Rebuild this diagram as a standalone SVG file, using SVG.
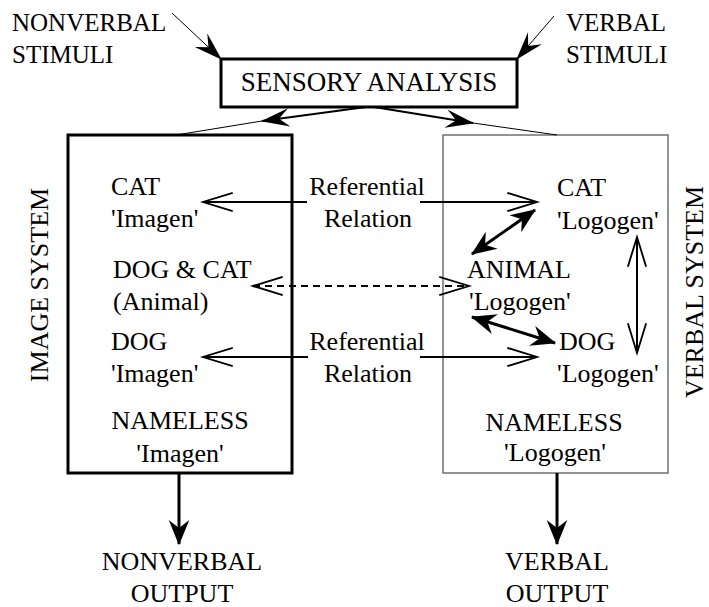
<svg xmlns="http://www.w3.org/2000/svg" width="709" height="607" viewBox="0 0 709 607">
  <style>
    text { font-family: "Liberation Serif", "Times New Roman", serif; font-size: 26px; fill: #000; }
    .small { font-size: 25px; }
    .title { font-size: 27px; }
    .mid { text-anchor: middle; }
    .box-strong { fill: #fff; stroke: #000; stroke-width: 3; }
    .box-light { fill: #fff; stroke: #707070; stroke-width: 1.5; }
    .ln { fill: none; stroke: #000; stroke-linecap: butt; }
    .thin { stroke-width: 1; }
    .med { stroke-width: 2; }
    .bold { stroke-width: 3; }
    .dash { stroke-dasharray: 7 5; stroke-width: 2.2; }
  </style>
  <defs>
    <!-- open V head -->
    <marker id="vee" markerUnits="userSpaceOnUse" orient="auto-start-reverse" refX="0" refY="0"
            markerWidth="40" markerHeight="40" viewBox="-30 -15 35 30" overflow="visible">
      <path d="M-26,-8 L0,0 L-26,8" fill="none" stroke="#000" stroke-width="1.6"/>
    </marker>
    <!-- barbed solid head -->
    <marker id="barb" markerUnits="userSpaceOnUse" orient="auto-start-reverse" refX="0" refY="0"
            markerWidth="40" markerHeight="40" viewBox="-30 -15 35 30" overflow="visible">
      <path d="M1,0 L-21,-9 L-14,0 L-21,9 Z" fill="#000"/>
    </marker>
    <!-- slim barbed head -->
    <marker id="barbSlim" markerUnits="userSpaceOnUse" orient="auto-start-reverse" refX="0" refY="0"
            markerWidth="40" markerHeight="40" viewBox="-30 -15 35 30" overflow="visible">
      <path d="M1,0 L-24,-8 L-15,0 L-24,8 Z" fill="#000"/>
    </marker>
  </defs>

  <!-- inputs -->
  <g id="nonverbal-stimuli">
    <text class="small" x="12" y="31">NONVERBAL</text>
    <text class="small" x="12" y="63">STIMULI</text>
  </g>
  <g id="verbal-stimuli">
    <text class="small" x="566" y="31">VERBAL</text>
    <text class="small" x="566" y="63">STIMULI</text>
  </g>

  <g id="sensory-analysis">
    <rect class="box-strong" x="221" y="59" width="296" height="48"/>
    <text class="title mid" x="369" y="91">SENSORY ANALYSIS</text>
  </g>

  <!-- image system -->
  <g id="image-system">
    <rect class="box-strong" x="68" y="135" width="224" height="338"/>
    <text class="mid" transform="translate(48,285) rotate(-90)">IMAGE SYSTEM</text>
  </g>
  <g id="cat-imagen">
    <text x="111" y="195">CAT</text>
    <text x="111" y="227">'Imagen'</text>
  </g>
  <g id="animal-imagen">
    <text x="113" y="278">DOG &amp; CAT</text>
    <text x="113" y="310">(Animal)</text>
  </g>
  <g id="dog-imagen">
    <text x="111" y="350">DOG</text>
    <text x="111" y="382">'Imagen'</text>
  </g>
  <g id="nameless-imagen">
    <text class="mid" x="180" y="429">NAMELESS</text>
    <text class="mid" x="180" y="462">'Imagen'</text>
  </g>

  <!-- verbal system -->
  <g id="verbal-system">
    <rect class="box-light" x="443" y="135" width="225" height="338"/>
    <text class="mid" transform="translate(703,292) rotate(-90)">VERBAL SYSTEM</text>
  </g>
  <g id="cat-logogen">
    <text x="557" y="196">CAT</text>
    <text x="557" y="229">'Logogen'</text>
  </g>
  <g id="animal-logogen">
    <text x="467" y="278">ANIMAL</text>
    <text x="469" y="310">'Logogen'</text>
  </g>
  <g id="dog-logogen">
    <text x="559" y="350">DOG</text>
    <text x="557" y="382">'Logogen'</text>
  </g>
  <g id="nameless-logogen">
    <text class="mid" x="554" y="431">NAMELESS</text>
    <text class="mid" x="555" y="461">'Logogen'</text>
  </g>

  <!-- referential labels -->
  <g id="referential-cat">
    <text class="mid" x="367" y="195">Referential</text>
    <text class="mid" x="368" y="227">Relation</text>
  </g>
  <g id="referential-dog">
    <text class="mid" x="367" y="350">Referential</text>
    <text class="mid" x="368" y="382">Relation</text>
  </g>

  <!-- outputs -->
  <g id="nonverbal-output">
    <text class="mid" x="182" y="570">NONVERBAL</text>
    <text class="mid" x="182" y="602">OUTPUT</text>
  </g>
  <g id="verbal-output">
    <text class="mid" x="557" y="570">VERBAL</text>
    <text class="mid" x="557" y="602">OUTPUT</text>
  </g>

  <g id="connectors">
    <!-- stimuli into sensory analysis -->
    <line class="ln thin" x1="172" y1="13" x2="221" y2="59" marker-end="url(#barbSlim)"/>
    <line class="ln thin" x1="554" y1="16" x2="517" y2="59" marker-end="url(#barbSlim)"/>
    <!-- sensory analysis to both systems -->
    <line class="ln med" x1="366" y1="107" x2="262" y2="121" marker-end="url(#barbSlim)"/>
    <line class="ln thin" x1="262" y1="121" x2="176" y2="135"/>
    <line class="ln med" x1="374" y1="107" x2="473" y2="123" marker-end="url(#barbSlim)"/>
    <line class="ln thin" x1="473" y1="123" x2="557" y2="135"/>
    <!-- referential relations -->
    <line class="ln med" x1="307" y1="202" x2="203" y2="202" marker-end="url(#vee)"/>
    <line class="ln med" x1="420" y1="202" x2="537" y2="202" marker-end="url(#vee)"/>
    <line class="ln med" x1="308" y1="357" x2="203" y2="357" marker-end="url(#vee)"/>
    <line class="ln med" x1="420" y1="357" x2="537" y2="357" marker-end="url(#vee)"/>
    <!-- animal link -->
    <line class="ln dash" x1="253" y1="286" x2="469" y2="286" marker-start="url(#vee)" marker-end="url(#vee)"/>
    <!-- logogen associations -->
    <line class="ln bold" x1="535" y1="210" x2="472" y2="254" marker-start="url(#barb)" marker-end="url(#barb)"/>
    <line class="ln bold" x1="472" y1="317" x2="555" y2="343" marker-start="url(#barb)" marker-end="url(#barb)"/>
    <line class="ln med" x1="637" y1="237" x2="637" y2="353" marker-start="url(#vee)" marker-end="url(#vee)"/>
    <!-- outputs -->
    <line class="ln bold" x1="179" y1="473" x2="179" y2="544" marker-end="url(#barb)"/>
    <line class="ln bold" x1="557" y1="473" x2="557" y2="544" marker-end="url(#barb)"/>
  </g>
</svg>
